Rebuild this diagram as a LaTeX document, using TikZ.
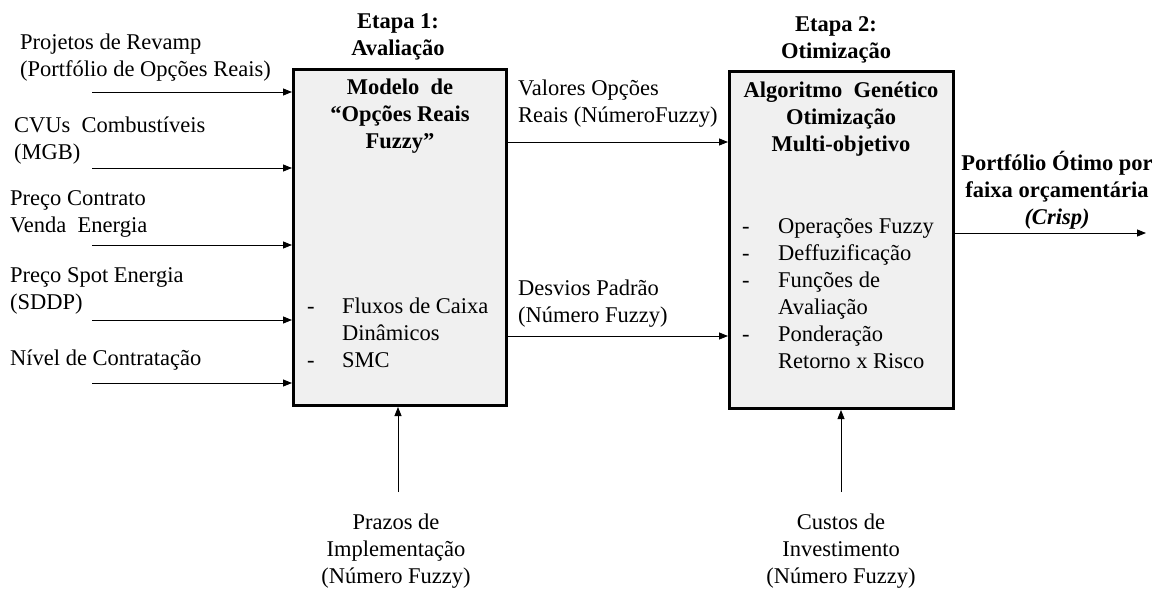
\documentclass[tikz,border=0pt]{standalone}
\usepackage{fontspec}
\setmainfont{Liberation Serif}
\usetikzlibrary{arrows.meta}
\definecolor{boxgray}{RGB}{240,240,240}
\newcommand\fstrut{\rule{0pt}{22pt}}
\begin{document}
\begin{tikzpicture}[x=1pt,y=-1pt,
  every node/.style={inner sep=0pt, font=\fontsize{22.5}{27}\selectfont},
  box/.style={draw, line width=3pt, fill=boxgray},
  arr/.style={-{Triangle[length=9pt,width=7pt]}, line width=0.8pt},
  lab/.style={align=left, anchor=north west},
  clab/.style={align=center, anchor=north},
  ttl/.style={align=center, anchor=north, font=\fontsize{22.5}{27}\selectfont\bfseries}]
\useasboundingbox (0,0) rectangle (1157,589);

% boxes
\node[box, minimum width=213pt, minimum height=336pt] (b1) at (400,237.5) {};
\node[box, minimum width=224pt, minimum height=337pt] (b2) at (841.5,240) {};

% stage titles
\node[ttl] (e1) at (398,6) {\fstrut Etapa 1:\\Avaliação};
\node[ttl] (e2) at (836,9) {\fstrut Etapa 2:\\Otimização};

% box contents
\node[ttl] (m1) at (400,72) {\fstrut Modelo\ \ de\\“Opções Reais\\Fuzzy”};
\node[lab] (f1) at (307,291) {\fstrut\makebox[35pt][l]{-}Fluxos de Caixa\\\hspace*{35pt}Dinâmicos\\\makebox[35pt][l]{-}SMC};

\node[ttl] (m2) at (841,75) {\fstrut Algoritmo\ \ Genético\\Otimização\\Multi-objetivo};
\node[lab] (g1) at (742,211) {\fstrut\makebox[36pt][l]{-}Operações Fuzzy\\\makebox[36pt][l]{-}Deffuzificação\\\makebox[36pt][l]{-}Funções de\\\hspace*{36pt}Avaliação\\\makebox[36pt][l]{-}Ponderação\\\hspace*{36pt}Retorno x Risco};

% inputs left
\node[lab] (i1) at (20,27) {\fstrut Projetos de Revamp\\(Portfólio de Opções Reais)};
\node[lab] (i2) at (14,110) {\fstrut CVUs\ \ Combustíveis\\(MGB)};
\node[lab] (i3) at (10,183) {\fstrut Preço Contrato\\Venda\ \ Energia};
\node[lab] (i4) at (10,260) {\fstrut Preço Spot Energia\\(SDDP)};
\node[lab] (i5) at (10,343) {\fstrut Nível de Contratação};

\coordinate (a1) at (92,92);
\coordinate (a2) at (92,168);
\coordinate (a3) at (92,245);
\coordinate (a4) at (92,320);
\coordinate (a5) at (92,383);
\foreach \c in {a1,a2,a3,a4,a5}
  \draw[arr] (\c) -- (\c -| b1.west);

% middle connectors
\node[lab] (v1) at (518,73) {\fstrut Valores Opções\\Reais (NúmeroFuzzy)};
\node[lab] (v2) at (518,273) {\fstrut Desvios Padrão\\(Número Fuzzy)};
\coordinate (m1y) at (0,142);
\coordinate (m2y) at (0,336);
\draw[arr] (b1.east |- m1y) -- (b2.west |- m1y);
\draw[arr] (b1.east |- m2y) -- (b2.west |- m2y);

% output
\node[ttl] (o1) at (1057,148) {\fstrut Portfólio Ótimo por\\faixa orçamentária\\\textit{(Crisp)}};
\coordinate (oe) at (1146,233);
\draw[arr] (b2.east |- oe) -- (oe);

% bottom inputs
\node[clab] (p1) at (396,507) {\fstrut Prazos de\\Implementação\\(Número Fuzzy)};
\node[clab] (p2) at (841,507) {\fstrut Custos de\\Investimento\\(Número Fuzzy)};
\coordinate (q1) at (398,492);
\coordinate (q2) at (841,492);
\draw[arr] (q1) -- (q1 |- b1.south);
\draw[arr] (q2) -- (q2 |- b2.south);
\end{tikzpicture}
\end{document}
